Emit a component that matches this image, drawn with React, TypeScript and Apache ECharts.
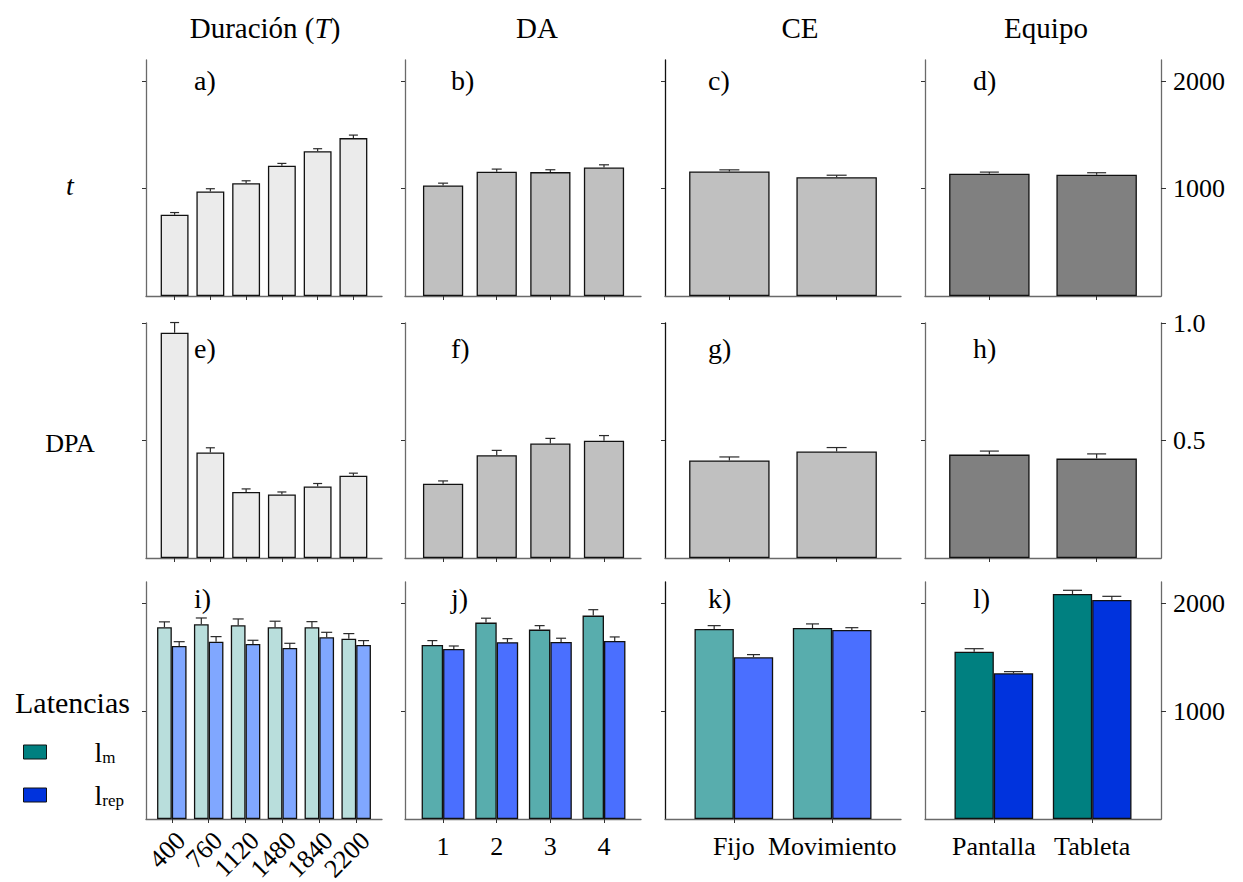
import React, { useEffect, useRef } from 'react';
import * as echarts from 'echarts';

// ---------- data ----------
const durCats = ['400', '760', '1120', '1480', '1840', '2200'];
const daCats = ['1', '2', '3', '4'];
const ceCats = ['Fijo', 'Movimiento'];
const eqCats = ['Pantalla', 'Tableta'];

// t (row 1)
const tDur = [758, 975, 1052, 1214, 1350, 1472];
const tDurErr = [20, 25, 22, 22, 23, 28];
const tDA = [1031, 1158, 1155, 1198];
const tDAErr = [21, 25, 22, 25];
const tCE = [1161, 1108];
const tCEErr = [15, 18];
const tEq = [1140, 1130];
const tEqErr = [15, 19];

// DPA (row 2)
const dpaDur = [0.959, 0.449, 0.281, 0.27, 0.304, 0.35];
const dpaDurErr = [0.043, 0.02, 0.013, 0.011, 0.013, 0.011];
const dpaDA = [0.316, 0.437, 0.487, 0.499];
const dpaDAErr = [0.012, 0.021, 0.022, 0.022];
const dpaCE = [0.415, 0.453];
const dpaCEErr = [0.015, 0.017];
const dpaEq = [0.44, 0.423];
const dpaEqErr = [0.015, 0.02];

// Latencias (row 3)
const lmDur = [1780, 1808, 1798, 1780, 1780, 1674];
const lmDurErr = [50, 58, 59, 56, 52, 47];
const lrepDur = [1606, 1646, 1625, 1588, 1687, 1616];
const lrepDurErr = [40, 47, 34, 43, 46, 40];
const lmDA = [1616, 1823, 1758, 1888];
const lmDAErr = [40, 41, 37, 55];
const lrepDA = [1578, 1641, 1643, 1653];
const lrepDAErr = [28, 33, 35, 37];
const lmCE = [1764, 1773];
const lmCEErr = [31, 38];
const lrepCE = [1501, 1755];
const lrepCEErr = [25, 21];
const lmEq = [1553, 2089];
const lmEqErr = [28, 34];
const lrepEq = [1353, 2033];
const lrepEqErr = [15, 34];

const colTitles = ['Duración', 'DA', 'CE', 'Equipo'];
const panelLetters = ['a)', 'b)', 'c)', 'd)', 'e)', 'f)', 'g)', 'h)', 'i)', 'j)', 'k)', 'l)'];
const tTicks = [1000, 2000];
const dpaTicks = [0.5, 1.0];
const latTicks = [1000, 2000];
const tMax = 2200;
const dpaMax = 1;
const latMax = 2200;

// ---------- layout / style ----------
const FONT = 'Liberation Serif';
const COL_LEFT = [146, 405, 665, 925];
const COL_W = 236;
const ROW_TOP = [60, 323, 582];
const ROW_H = [236, 235, 237];
const XR_TOP = [[-0.8, 5.8], [-0.71, 3.69], [-0.6, 1.6], [-0.6, 1.6]];
const XR_BOT = [[-0.7, 5.7], [-0.71, 3.69], [-0.7, 1.7], [-0.7, 1.7]];
const CAP_TOP = [9, 10, 20, 19];
const CAP_BOT = [11, 10, 13, 19];
const SINGLE_COLORS = ['#ebebeb', '#c0c0c0', '#c0c0c0', '#808080'];
const LM_COLORS = ['#b9dedc', '#58adad', '#58adad', '#008080'];
const LREP_COLORS = ['#80a7ff', '#4a6fff', '#4a6fff', '#0033dd'];
const AXIS_GRAY = '#6a6a6a';

type SeriesDef = { name: string; values: number[]; errs: number[]; colors: string[] };

function buildOption() {
  const cats = [durCats, daCats, ceCats, eqCats];
  const rows: { max: number; ticks: number[]; fmt: (v: number) => string; series: SeriesDef[][] }[] = [
    {
      max: tMax, ticks: tTicks, fmt: (v) => String(v),
      series: [
        [{ name: 't', values: tDur, errs: tDurErr, colors: SINGLE_COLORS }],
        [{ name: 't', values: tDA, errs: tDAErr, colors: SINGLE_COLORS }],
        [{ name: 't', values: tCE, errs: tCEErr, colors: SINGLE_COLORS }],
        [{ name: 't', values: tEq, errs: tEqErr, colors: SINGLE_COLORS }],
      ],
    },
    {
      max: dpaMax, ticks: dpaTicks, fmt: (v) => v.toFixed(1),
      series: [
        [{ name: 'DPA', values: dpaDur, errs: dpaDurErr, colors: SINGLE_COLORS }],
        [{ name: 'DPA', values: dpaDA, errs: dpaDAErr, colors: SINGLE_COLORS }],
        [{ name: 'DPA', values: dpaCE, errs: dpaCEErr, colors: SINGLE_COLORS }],
        [{ name: 'DPA', values: dpaEq, errs: dpaEqErr, colors: SINGLE_COLORS }],
      ],
    },
    {
      max: latMax, ticks: latTicks, fmt: (v) => String(v),
      series: [
        [
          { name: 'lm', values: lmDur, errs: lmDurErr, colors: LM_COLORS },
          { name: 'lrep', values: lrepDur, errs: lrepDurErr, colors: LREP_COLORS },
        ],
        [
          { name: 'lm', values: lmDA, errs: lmDAErr, colors: LM_COLORS },
          { name: 'lrep', values: lrepDA, errs: lrepDAErr, colors: LREP_COLORS },
        ],
        [
          { name: 'lm', values: lmCE, errs: lmCEErr, colors: LM_COLORS },
          { name: 'lrep', values: lrepCE, errs: lrepCEErr, colors: LREP_COLORS },
        ],
        [
          { name: 'lm', values: lmEq, errs: lmEqErr, colors: LM_COLORS },
          { name: 'lrep', values: lrepEq, errs: lrepEqErr, colors: LREP_COLORS },
        ],
      ],
    },
  ];

  const grid: any[] = [];
  const xAxis: any[] = [];
  const yAxis: any[] = [];
  const series: any[] = [];

  rows.forEach((row, r) => {
    for (let c = 0; c < 4; c++) {
      const k = r * 4 + c;
      const catList = cats[c];
      const idx = catList.map((_, i) => i);
      const xr = r < 2 ? XR_TOP[c] : XR_BOT[c];
      grid.push({
        left: COL_LEFT[c], top: ROW_TOP[r], width: COL_W, height: ROW_H[r],
        containLabel: false, outerBoundsMode: 'none',
      });
      const rotated = c === 0;
      xAxis.push({
        gridIndex: k, type: 'value', min: xr[0], max: xr[1],
        axisLine: { show: true, onZero: false, lineStyle: { color: AXIS_GRAY, width: 1.3 } },
        axisTick: { show: true, customValues: idx, length: 4, lineStyle: { color: '#333', width: 1 } },
        axisLabel: {
          show: r === 2, customValues: idx,
          formatter: (v: number) => catList[Math.round(v)],
          rotate: rotated ? 45 : 0, margin: rotated ? 8 : 14,
          verticalAlign: rotated ? 'top' : undefined,
          fontFamily: FONT, fontSize: 26, color: '#000',
        },
        splitLine: { show: false },
        minorTick: { show: false },
      });
      const yLeftIndex = yAxis.length;
      yAxis.push({
        gridIndex: k, type: 'value', min: 0, max: row.max, interval: row.ticks[0],
        position: 'left',
        axisLine: { show: true, onZero: false, lineStyle: { color: c === 2 ? '#111' : AXIS_GRAY, width: 1.3 } },
        axisTick: { show: true, customValues: row.ticks, length: 4, lineStyle: { color: '#333', width: 1 } },
        axisLabel: { show: false },
        splitLine: { show: false },
      });
      if (c === 3) {
        yAxis.push({
          gridIndex: k, type: 'value', min: 0, max: row.max, interval: row.ticks[0],
          position: 'right',
          axisLine: { show: true, onZero: false, lineStyle: { color: AXIS_GRAY, width: 1.3 } },
          axisTick: { show: true, customValues: row.ticks, length: 5, lineStyle: { color: '#333', width: 1 } },
          axisLabel: {
            show: true, customValues: row.ticks, formatter: row.fmt, margin: 12,
            fontFamily: FONT, fontSize: 26, color: '#000',
          },
          splitLine: { show: false },
        });
      }
      const defs = row.series[c];
      const grouped = defs.length > 1;
      const cap = r < 2 ? CAP_TOP[c] : CAP_BOT[c];
      defs.forEach((d) => {
        series.push({
          type: 'bar', name: d.name, xAxisIndex: k, yAxisIndex: yLeftIndex,
          data: d.values.map((v, i) => [i, v]),
          barWidth: grouped ? '40%' : (c === 0 ? '78%' : '75%'),
          barGap: '0%',
          itemStyle: { color: d.colors[c], borderColor: '#111', borderWidth: 1.3 },
          silent: true, z: 2,
        });
      });
      defs.forEach((d, si) => {
        const off = grouped ? (si === 0 ? -0.2 : 0.2) : 0;
        series.push({
          type: 'custom', name: d.name + '_err', xAxisIndex: k, yAxisIndex: yLeftIndex,
          data: d.values.map((v, i) => [i, v, d.errs[i]]),
          encode: { x: 0, y: 1 },
          silent: true, z: 3,
          renderItem: (params: any, api: any) => {
            const x = api.value(0) + off;
            const v = api.value(1);
            const e = api.value(2);
            const p0 = api.coord([x, v]);
            const p1 = api.coord([x, v + e]);
            const h = cap / 2;
            const style = { stroke: '#2a2a2a', lineWidth: 1.2 };
            return {
              type: 'group',
              children: [
                { type: 'line', shape: { x1: p0[0], y1: p0[1], x2: p1[0], y2: p1[1] }, style },
                { type: 'line', shape: { x1: p1[0] - h, y1: p1[1], x2: p1[0] + h, y2: p1[1] }, style },
              ],
            };
          },
        });
      });
    }
  });

  const titleX = [265, 537, 800, 1046];
  const letterX = [194, 451, 708, 973];
  const letterY = [80, 348, 598];
  const graphic: any[] = [];
  colTitles.forEach((t, c) => {
    const text = c === 0 ? '{n|' + t + ' (}{i|T}{n|)}' : '{n|' + t + '}';
    graphic.push({
      type: 'text', x: titleX[c], y: 28, silent: true,
      style: {
        text, align: 'center', verticalAlign: 'middle', textAlign: 'center', textVerticalAlign: 'middle',
        fill: '#000', fontFamily: FONT, fontSize: 29,
        rich: {
          n: { fontFamily: FONT, fontSize: 29, fill: '#000' },
          i: { fontFamily: FONT, fontSize: 29, fontStyle: 'italic', fill: '#000' },
        },
      },
    });
  });
  panelLetters.forEach((l, k) => {
    const r = Math.floor(k / 4);
    const c = k % 4;
    graphic.push({
      type: 'text', x: letterX[c], y: letterY[r], silent: true,
      style: {
        text: l, fontFamily: FONT, fontSize: 28, fill: '#000',
        align: 'left', verticalAlign: 'middle', textAlign: 'left', textVerticalAlign: 'middle',
      },
    });
  });
  graphic.push({
    type: 'text', x: 70, y: 185, silent: true,
    style: {
      text: 't', fontFamily: FONT, fontSize: 28, fontStyle: 'italic', fill: '#000',
      align: 'center', verticalAlign: 'middle', textAlign: 'center', textVerticalAlign: 'middle',
    },
  });
  graphic.push({
    type: 'text', x: 70, y: 443, silent: true,
    style: {
      text: 'DPA', fontFamily: FONT, fontSize: 26, fill: '#000',
      align: 'center', verticalAlign: 'middle', textAlign: 'center', textVerticalAlign: 'middle',
    },
  });
  graphic.push({
    type: 'text', x: 15, y: 702, silent: true,
    style: {
      text: 'Latencias', fontFamily: FONT, fontSize: 30, fill: '#000',
      align: 'left', verticalAlign: 'middle', textAlign: 'left', textVerticalAlign: 'middle',
    },
  });

  const legendRich = {
    b: { fontFamily: FONT, fontSize: 28, lineHeight: 28, verticalAlign: 'top', padding: [0, 0, 0, 43], color: '#000' },
    s: { fontFamily: FONT, fontSize: 17, lineHeight: 17, verticalAlign: 'bottom', padding: [16, 0, 0, 0], color: '#000' },
  };
  const legendBase = {
    orient: 'vertical', left: 23, padding: 0, itemWidth: 23, itemHeight: 14,
    icon: 'rect', selectedMode: false, textStyle: { fontFamily: FONT, rich: legendRich },
  };

  return {
    animation: false,
    backgroundColor: '#fff',
    textStyle: { fontFamily: FONT },
    grid, xAxis, yAxis, series, graphic,
    legend: [
      {
        ...legendBase, top: 733,
        data: [{ name: 'lm', itemStyle: { color: LM_COLORS[3], borderColor: '#111', borderWidth: 1 } }],
        formatter: () => '{b|l}{s|m}',
      },
      {
        ...legendBase, top: 776,
        data: [{ name: 'lrep', itemStyle: { color: LREP_COLORS[3], borderColor: '#111', borderWidth: 1 } }],
        formatter: () => '{b|l}{s|rep}',
      },
    ],
  };
}

export default function App() {
  const ref = useRef<HTMLDivElement>(null);
  useEffect(() => {
    if (!ref.current) return;
    const chart = echarts.init(ref.current, null, { renderer: 'svg' });
    chart.setOption(buildOption() as any);
    return () => chart.dispose();
  }, []);
  return (
    <div
      ref={ref}
      style={{ position: 'fixed', left: 0, top: 0, width: 1243, height: 882, background: '#fff' }}
    />
  );
}
